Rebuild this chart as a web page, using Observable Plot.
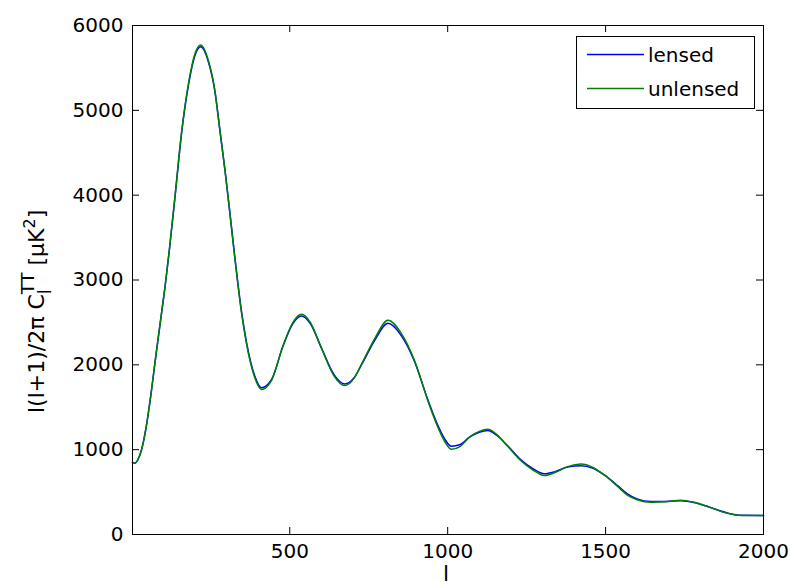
<!DOCTYPE html>
<html><head><meta charset="utf-8">
<script src="https://cdn.jsdelivr.net/npm/d3@7"></script>
<script src="https://cdn.jsdelivr.net/npm/@observablehq/plot@0.6"></script>
<style>body{margin:0;background:#fff;} svg{display:block;}</style>
</head><body><div id="chart"></div>
<script>
const ells = [2, 10, 20, 30, 45, 60, 75, 90, 105, 118, 137, 158, 179, 200, 218, 242, 263, 279, 295, 310, 326, 347, 363, 389, 410, 442, 479, 510, 537, 565, 600, 640, 674, 705, 730, 769, 811, 853, 895, 937, 965, 990, 1011, 1040, 1070, 1100, 1127, 1155, 1190, 1232, 1270, 1306, 1340, 1380, 1422, 1460, 1500, 1540, 1569, 1600, 1643, 1690, 1738, 1780, 1830, 1885, 1930, 2000];
const unlensed = [850, 840, 890, 990, 1260, 1640, 2080, 2500, 2920, 3330, 4000, 4760, 5310, 5670, 5770, 5590, 5230, 4760, 4290, 3800, 3260, 2620, 2250, 1850, 1710, 1815, 2230, 2500, 2595, 2500, 2200, 1870, 1755, 1850, 2030, 2310, 2525, 2370, 2050, 1580, 1300, 1100, 1005, 1040, 1150, 1215, 1240, 1180, 1040, 870, 760, 695, 730, 800, 830, 790, 690, 560, 465, 410, 380, 385, 405, 380, 320, 250, 224, 224];
const lensed = [850, 840, 890, 990, 1260, 1640, 2080, 2500, 2920, 3330, 3995, 4750, 5295, 5650, 5750, 5575, 5220, 4755, 4290, 3805, 3270, 2635, 2265, 1870, 1730, 1825, 2225, 2485, 2575, 2485, 2200, 1885, 1775, 1855, 2020, 2290, 2490, 2345, 2040, 1590, 1320, 1130, 1040, 1060, 1150, 1205, 1225, 1170, 1045, 880, 775, 715, 740, 795, 810, 780, 690, 570, 480, 420, 390, 390, 398, 378, 322, 255, 226, 224];
const xTicks = [500, 1000, 1500, 2000];
const yTicks = [0, 1000, 2000, 3000, 4000, 5000, 6000];
const seriesNames = ["lensed", "unlensed"];
const seriesColors = ["#0000ff", "#008000"];

const lensedRows = ells.map((l, i) => ({l, v: lensed[i]}));
const unlensedRows = ells.map((l, i) => ({l, v: unlensed[i]}));

const W = 790, H = 587, mL = 132, mR = 27, mT = 25, mB = 53;
const fw = W - mL - mR, fh = H - mT - mB, tk = 7;

const plot = Plot.plot({
  width: W, height: H, marginLeft: mL, marginRight: mR, marginTop: mT, marginBottom: mB,
  style: {fontFamily: "'DejaVu Sans', sans-serif", fontSize: "20px", background: "#fff", color: "#000"},
  x: {domain: [2, 2000], label: null},
  y: {domain: [0, 6000], label: null},
  marks: [
    Plot.line(lensedRows, {x: "l", y: "v", stroke: seriesColors[0], strokeWidth: 1.5, curve: "monotone-x"}),
    Plot.line(unlensedRows, {x: "l", y: "v", stroke: seriesColors[1], strokeWidth: 1.5, curve: "monotone-x"}),
    Plot.tickX(xTicks, {x: d => d, insetTop: fh - tk, stroke: "black"}),
    Plot.tickX(xTicks, {x: d => d, insetBottom: fh - tk, stroke: "black"}),
    Plot.tickY(yTicks, {y: d => d, insetRight: fw - tk, stroke: "black"}),
    Plot.tickY(yTicks, {y: d => d, insetLeft: fw - tk, stroke: "black"}),
    Plot.axisX(xTicks, {tickSize: 0, tickPadding: 9, label: null, tickFormat: d => String(d)}),
    Plot.axisY(yTicks, {tickSize: 0, tickPadding: 9, label: null, tickFormat: d => String(d)}),
    Plot.frame({stroke: "black"})
  ]
});
document.getElementById("chart").append(plot);

const svg = d3.select(plot);
// x label
svg.append("text").attr("x", 446).attr("y", 581).attr("text-anchor", "middle")
  .attr("font-size", 22).attr("fill", "black").text("l");
// y label
const yl = svg.append("text").attr("transform", "translate(44,413) rotate(-90)")
  .attr("text-anchor", "start").attr("font-size", 22).attr("fill", "black");
yl.append("tspan").text("l(l+1)/2π C");
yl.append("tspan").attr("font-size", 18).attr("dy", 7).text("l");
yl.append("tspan").attr("font-size", 18).attr("dx", -5).attr("dy", -17).text("TT");
yl.append("tspan").attr("dy", 10).text(" [μK");
yl.append("tspan").attr("font-size", 16).attr("dy", -9).text("2");
yl.append("tspan").attr("dy", 9).text("]");

// legend
const lg = svg.append("g");
lg.append("rect").attr("x", 576.5).attr("y", 36.5).attr("width", 178).attr("height", 72)
  .attr("fill", "white").attr("stroke", "black");
seriesNames.forEach((name, i) => {
  const y = 54.5 + i * 34;
  lg.append("line").attr("x1", 587).attr("x2", 644).attr("y1", y).attr("y2", y)
    .attr("stroke", seriesColors[i]).attr("stroke-width", 1.5);
  lg.append("text").attr("x", 648).attr("y", y + 7.5).attr("font-size", 20)
    .attr("text-anchor", "start").attr("fill", "black").text(name);
});
</script>
</body></html>
